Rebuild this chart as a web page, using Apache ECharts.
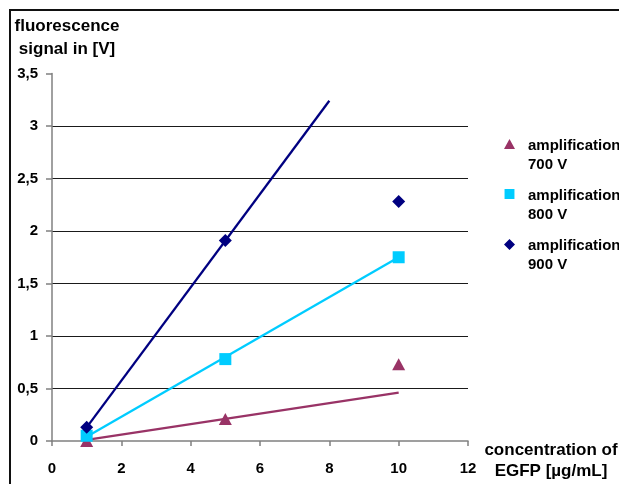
<!DOCTYPE html>
<html>
<head>
<meta charset="utf-8">
<script src="https://cdn.jsdelivr.net/npm/echarts@6/dist/echarts.min.js"></script>
<style>html,body{margin:0;padding:0;background:#fff}#c{width:619px;height:484px}</style>
</head>
<body>
<div id="c"></div>
<script>
// Data
var concentrations = [1, 5, 10];
var amp700 = [0.00, 0.21, 0.73];
var amp800 = [0.05, 0.78, 1.75];
var amp900 = [0.13, 1.91, 2.28];
// trend lines (endpoints)
var trend700 = [[1, 0.01], [10, 0.46]];
var trend800 = [[1, 0.04], [10, 1.75]];
var trend900 = [[1, 0.13], [8, 3.24]];
var seriesNames = ['amplification\n700 V', 'amplification\n800 V', 'amplification\n900 V'];
var colors = ['#993366', '#00CCFF', '#000080'];
var yTicks = {min: 0, max: 3.5, interval: 0.5};
var xTicks = {min: 0, max: 12, interval: 2};

function pts(vals) { return concentrations.map(function (x, i) { return [x, vals[i]]; }); }

var FONT = "'Liberation Sans', Arial, sans-serif";
var chart = echarts.init(document.getElementById('c'), null, {renderer: 'canvas'});
chart.setOption({
  animation: false,
  backgroundColor: '#fff',
  grid: {left: 52, right: 151, top: 73.5, bottom: 43, containLabel: false},
  xAxis: {
    type: 'value', min: xTicks.min, max: xTicks.max, interval: xTicks.interval,
    axisLine: {show: true, lineStyle: {color: '#808080', width: 1.5}},
    axisTick: {show: true, inside: false, length: 5, lineStyle: {color: '#808080', width: 1.5}},
    splitLine: {show: false},
    axisLabel: {color: '#000', fontSize: 15, fontWeight: 'bold', fontFamily: FONT, margin: 20}
  },
  yAxis: {
    type: 'value', min: yTicks.min, max: yTicks.max, interval: yTicks.interval,
    axisLine: {show: true, lineStyle: {color: '#808080', width: 1.5}},
    axisTick: {show: true, inside: false, length: 6, lineStyle: {color: '#808080', width: 1.5}},
    splitLine: {show: true, showMinLine: false, showMaxLine: false, lineStyle: {color: '#1a1a1a', width: 1}},
    axisLabel: {color: '#000', fontSize: 15, fontWeight: 'bold', fontFamily: FONT, margin: 14,
      formatter: function (v) { return String(v).replace('.', ','); }}
  },
  legend: {
    orient: 'vertical', left: 499, top: 131, itemGap: 12, itemWidth: 11, itemHeight: 32,
    data: [
      {name: seriesNames[0], icon: 'path://M5,0 L10,9 L0,9 Z M0,29 L10,29'},
      {name: seriesNames[1], icon: 'path://M0.5,0 L9.5,0 L9.5,9 L0.5,9 Z M0,29 L10,29'},
      {name: seriesNames[2], icon: 'path://M5,0 L10,5 L5,10 L0,5 Z M0,29 L10,29'}
    ],
    itemStyle: {borderWidth: 0},
    textStyle: {color: '#000', fontSize: 15, fontWeight: 'bold', fontFamily: FONT, lineHeight: 19, padding: [0, 0, 0, 8]},
    selectedMode: false
  },
  graphic: [
    {type: 'rect', shape: {x: 10, y: 10, width: 700, height: 600}, style: {fill: 'none', stroke: '#111', lineWidth: 2}, silent: true},
    {type: 'text', x: 67, y: 15, style: {text: 'fluorescence\nsignal in [V]', fill: '#000', font: 'bold 17px ' + FONT, textAlign: 'center', lineHeight: 23}},
    {type: 'text', x: 551, y: 440, style: {text: 'concentration of\nEGFP [µg/mL]', fill: '#000', font: 'bold 17px ' + FONT, textAlign: 'center', lineHeight: 21}}
  ],
  series: [
    {type: 'line', data: trend700, symbol: 'none', lineStyle: {color: colors[0], width: 2.3}, silent: true, z: 2},
    {type: 'line', data: trend800, symbol: 'none', lineStyle: {color: colors[1], width: 2.3}, silent: true, z: 2},
    {type: 'line', data: trend900, symbol: 'none', lineStyle: {color: colors[2], width: 2.3}, silent: true, z: 2},
    {name: seriesNames[0], type: 'scatter', data: pts(amp700), symbol: 'triangle', symbolSize: [13, 12], itemStyle: {color: colors[0], opacity: 1}, z: 3},
    {name: seriesNames[1], type: 'scatter', data: pts(amp800), symbol: 'rect', symbolSize: 12, itemStyle: {color: colors[1], opacity: 1}, z: 3},
    {name: seriesNames[2], type: 'scatter', data: pts(amp900), symbol: 'diamond', symbolSize: 13, itemStyle: {color: colors[2], opacity: 1}, z: 4}
  ]
});
</script>
</body>
</html>
